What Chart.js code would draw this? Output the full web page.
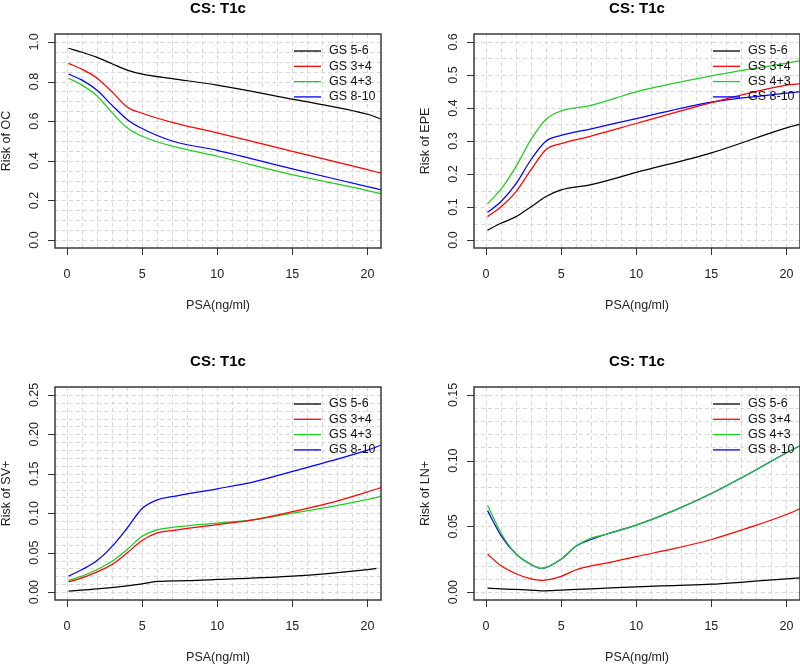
<!DOCTYPE html>
<html>
<head>
<meta charset="utf-8">
<script src="https://cdn.jsdelivr.net/npm/chart.js@4.4.1/dist/chart.umd.min.js"></script>
<style>
    body { margin: 0; background: #fff; width: 800px; height: 664px; position: relative; overflow: hidden; }
    canvas { position: absolute; }
</style>
</head>
<body>
<canvas id="ocChart" width="400" height="332" style="left:0;top:0"></canvas>
<canvas id="epeChart" width="400" height="332" style="left:400px;top:0"></canvas>
<canvas id="svChart" width="400" height="332" style="left:0;top:332px"></canvas>
<canvas id="lnChart" width="400" height="332" style="left:400px;top:332px"></canvas>
<script>
const groups = ['GS 5-6', 'GS 3+4', 'GS 4+3', 'GS 8-10'];
const groupColors = ['#000000', '#ff0000', '#22cc22', '#0000ff'];

const xTicks = [0, 5, 10, 15, 20];

// Risk of OC
const psaOC = [0.1, 1, 2, 3, 4, 5, 7, 10, 15, 20, 21];
const ocGS56 = [0.968, 0.948, 0.922, 0.890, 0.858, 0.838, 0.815, 0.782, 0.711, 0.635, 0.608];
const ocGS34 = [0.892, 0.862, 0.817, 0.748, 0.672, 0.640, 0.594, 0.541, 0.448, 0.355, 0.336];
const ocGS43 = [0.817, 0.782, 0.727, 0.643, 0.567, 0.524, 0.474, 0.423, 0.330, 0.250, 0.232];
const ocGS810 = [0.838, 0.807, 0.756, 0.680, 0.609, 0.563, 0.500, 0.453, 0.359, 0.270, 0.252];
const ocTicks = [0, 0.2, 0.4, 0.6, 0.8, 1.0];

// Risk of EPE
const psaEPE = [0.1, 1, 2, 3, 4, 5, 7, 10, 15, 20, 21];
const epeGS56 = [0.030, 0.051, 0.071, 0.101, 0.132, 0.152, 0.168, 0.205, 0.264, 0.340, 0.352];
const epeGS34 = [0.071, 0.101, 0.147, 0.213, 0.274, 0.292, 0.315, 0.353, 0.416, 0.469, 0.474];
const epeGS43 = [0.110, 0.154, 0.223, 0.305, 0.366, 0.391, 0.408, 0.449, 0.497, 0.536, 0.544];
const epeGS810 = [0.084, 0.117, 0.171, 0.244, 0.300, 0.317, 0.337, 0.368, 0.418, 0.445, 0.450];
const epeTicks = [0, 0.1, 0.2, 0.3, 0.4, 0.5, 0.6];

// Risk of SV+
const psaSV = [0.1, 1, 2, 3, 4, 5, 6, 7, 10, 12.5, 15, 17.5, 20, 21];
const psaSV56 = [0.1, 2, 4, 5, 6, 8, 10, 15, 20, 20.6];
const svGS56 = [0.0013, 0.004, 0.008, 0.0105, 0.0135, 0.0145, 0.016, 0.0202, 0.0286, 0.030];
const svGS34 = [0.013, 0.018, 0.0257, 0.035, 0.0497, 0.0653, 0.075, 0.078, 0.0855, 0.092, 0.102, 0.113, 0.127, 0.133];
const svGS43 = [0.0148, 0.0202, 0.0286, 0.039, 0.054, 0.0707, 0.079, 0.082, 0.0875, 0.092, 0.100, 0.108, 0.1175, 0.122];
const svGS810 = [0.0202, 0.0286, 0.040, 0.058, 0.081, 0.106, 0.117, 0.121, 0.131, 0.140, 0.153, 0.166, 0.180, 0.187];
const svTicks = [0, 0.05, 0.10, 0.15, 0.20, 0.25];

// Risk of LN+
const psaLN = [0.1, 1, 2, 3, 3.7, 5, 6, 7, 8, 10, 12.5, 15, 17.5, 20, 21];
const lnGS56 = [0.003, 0.0025, 0.002, 0.0015, 0.001, 0.0015, 0.002, 0.0025, 0.003, 0.004, 0.005, 0.006, 0.008, 0.010, 0.011];
const lnGS34 = [0.029, 0.020, 0.014, 0.010, 0.009, 0.012, 0.017, 0.020, 0.022, 0.027, 0.033, 0.040, 0.049, 0.059, 0.064];
const lnGS43 = [0.066, 0.045, 0.029, 0.021, 0.018, 0.025, 0.035, 0.041, 0.044, 0.051, 0.062, 0.075, 0.090, 0.106, 0.112];
const lnGS810 = [0.062, 0.043, 0.029, 0.021, 0.018, 0.025, 0.035, 0.040, 0.044, 0.051, 0.062, 0.075, 0.090, 0.106, 0.112];
const lnTicks = [0, 0.05, 0.10, 0.15];

const FONT = '"Liberation Sans", Arial, Helvetica, sans-serif';

function toPoints(xs, ys) {
    return ys.map((v, i) => ({ x: xs[i], y: v }));
}

// R-like frame: dashed grid, box, outside ticks, rotated y labels, title, plain legend
const rStyle = {
    id: 'rStyle',
    beforeDatasetsDraw(chart, args, o) {
        const { ctx, chartArea: a, scales: { x, y } } = chart;
        ctx.save();
        ctx.strokeStyle = '#d9d9d9';
        ctx.lineWidth = 1;
        ctx.setLineDash([4, 3]);
        ctx.beginPath();
        for (let v = Math.ceil(x.min); v <= x.max; v++) {
            const px = Math.round(x.getPixelForValue(v)) + 0.5;
            ctx.moveTo(px, a.top);
            ctx.lineTo(px, a.bottom);
        }
        const n = Math.round((y.max - y.min) / o.gridStep) + 2;
        for (let i = 0; i < n; i++) {
            const v = i * o.gridStep;
            if (v > y.max) break;
            const py = Math.round(y.getPixelForValue(v)) + 0.5;
            ctx.moveTo(a.left, py);
            ctx.lineTo(a.right, py);
        }
        ctx.stroke();
        ctx.restore();
    },
    afterDatasetsDraw(chart, args, o) {
        const { ctx, chartArea: a, scales: { x, y } } = chart;
        ctx.save();
        ctx.setLineDash([]);

        // box
        ctx.strokeStyle = '#3a3a3a';
        ctx.lineWidth = 1.5;
        ctx.strokeRect(a.left, a.top, a.right - a.left, a.bottom - a.top);

        // ticks
        ctx.lineWidth = 1;
        ctx.strokeStyle = '#333';
        ctx.fillStyle = '#222';
        ctx.font = '12.5px ' + FONT;
        ctx.textAlign = 'center';
        ctx.textBaseline = 'middle';
        ctx.beginPath();
        xTicks.forEach(t => {
            const px = Math.round(x.getPixelForValue(t)) + 0.5;
            ctx.moveTo(px, a.bottom);
            ctx.lineTo(px, a.bottom + 7);
        });
        o.yTicks.forEach(t => {
            const py = Math.round(y.getPixelForValue(t)) + 0.5;
            ctx.moveTo(a.left, py);
            ctx.lineTo(a.left - 7, py);
        });
        ctx.stroke();
        xTicks.forEach(t => {
            ctx.fillText(String(t), x.getPixelForValue(t), a.bottom + 26.5);
        });
        o.yTicks.forEach(t => {
            ctx.save();
            ctx.translate(a.left - 20.5, y.getPixelForValue(t));
            ctx.rotate(-Math.PI / 2);
            ctx.fillText(t.toFixed(o.digits), 0, 0);
            ctx.restore();
        });

        // axis titles
        ctx.fillText('PSA(ng/ml)', (a.left + a.right) / 2, a.bottom + 58);
        ctx.save();
        ctx.translate(a.left - 48.5, (a.top + a.bottom) / 2);
        ctx.rotate(-Math.PI / 2);
        ctx.fillText(o.ylab, 0, 0);
        ctx.restore();

        // main title
        ctx.fillStyle = '#000';
        ctx.font = 'bold 15px ' + FONT;
        ctx.fillText('CS: T1c', (a.left + a.right) / 2, a.top - 25.5);

        // legend, no box
        ctx.font = '12.5px ' + FONT;
        ctx.textAlign = 'left';
        ctx.lineWidth = 1.3;
        chart.data.datasets.forEach((ds, i) => {
            const ly = a.top + 17 + i * 15.3;
            ctx.strokeStyle = ds.borderColor;
            ctx.beginPath();
            ctx.moveTo(a.left + 239, ly);
            ctx.lineTo(a.left + 266, ly);
            ctx.stroke();
            ctx.fillStyle = '#111';
            ctx.fillText(ds.label, a.left + 274, ly);
        });
        ctx.restore();
    }
};

function makePanel(id, padding, series, yMin, yMax, opts) {
    new Chart(document.getElementById(id), {
        type: 'line',
        data: {
            datasets: series.map((pts, i) => ({
                label: groups[i],
                data: pts,
                borderColor: groupColors[i],
                borderWidth: 1.25,
                pointRadius: 0,
                fill: false,
                cubicInterpolationMode: 'monotone'
            }))
        },
        options: {
            responsive: false,
            animation: false,
            devicePixelRatio: 1,
            events: [],
            layout: { padding: padding },
            scales: {
                x: { type: 'linear', min: -0.8, max: 20.9, display: false },
                y: { type: 'linear', min: yMin, max: yMax, display: false }
            },
            plugins: {
                legend: { display: false },
                tooltip: { enabled: false },
                rStyle: opts
            }
        },
        plugins: [rStyle]
    });
}

const padLeft = { left: 55, right: 19 };
const padRight = { left: 74, right: 0 };

makePanel('ocChart', { ...padLeft, top: 34, bottom: 84 }, [
    toPoints(psaOC, ocGS56), toPoints(psaOC, ocGS34), toPoints(psaOC, ocGS43), toPoints(psaOC, ocGS810)
], -0.04, 1.04, { yTicks: ocTicks, digits: 1, gridStep: 0.05, ylab: 'Risk of OC' });

makePanel('epeChart', { ...padRight, top: 34, bottom: 84 }, [
    toPoints(psaEPE, epeGS56), toPoints(psaEPE, epeGS34), toPoints(psaEPE, epeGS43), toPoints(psaEPE, epeGS810)
], -0.024, 0.624, { yTicks: epeTicks, digits: 1, gridStep: 0.05, ylab: 'Risk of EPE' });

makePanel('svChart', { ...padLeft, top: 55, bottom: 64 }, [
    toPoints(psaSV56, svGS56), toPoints(psaSV, svGS34), toPoints(psaSV, svGS43), toPoints(psaSV, svGS810)
], -0.01, 0.26, { yTicks: svTicks, digits: 2, gridStep: 0.01, ylab: 'Risk of SV+' });

makePanel('lnChart', { ...padRight, top: 55, bottom: 64 }, [
    toPoints(psaLN, lnGS56), toPoints(psaLN, lnGS34), toPoints(psaLN, lnGS43), toPoints(psaLN, lnGS810)
], -0.006, 0.156, { yTicks: lnTicks, digits: 2, gridStep: 0.01, ylab: 'Risk of LN+' });
</script>
</body>
</html>
